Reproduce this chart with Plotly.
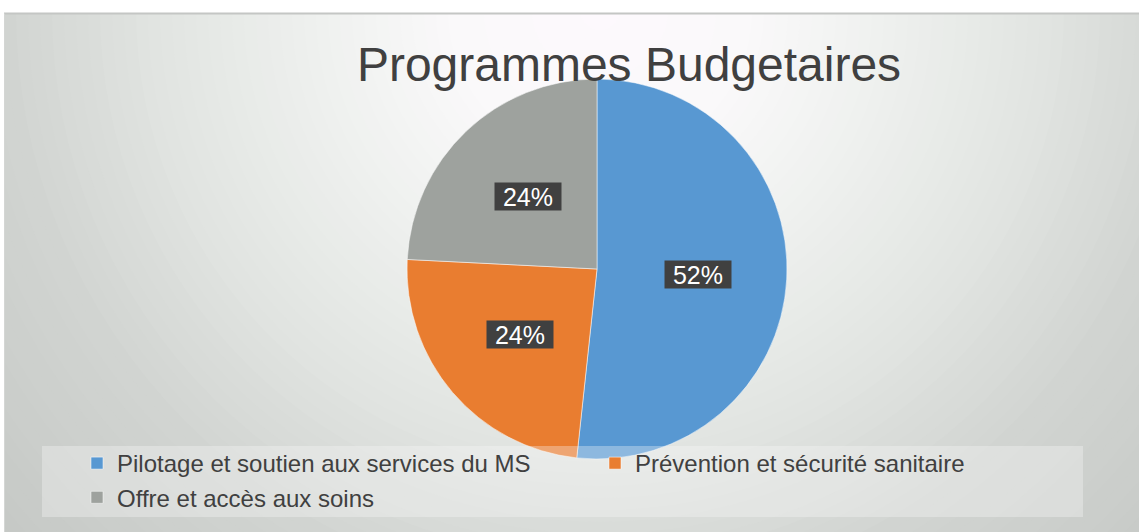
import math
import plotly.graph_objects as go

# ---- data ----
categories = ["Pilotage et soutien aux services du MS",
              "Prévention et sécurité sanitaire",
              "Offre et accès aux soins"]
values = [51.7, 24.1, 24.2]
colors = ["#5898d2", "#e97d30", "#9ea29e"]
title_text = "Programmes Budgetaires"

W, H = 1139, 532
CX, CY, R = 597, 269, 190  # pie centre / radius in px


def px(x):
    return x / W


def py(y):
    return 1 - y / H


fig = go.Figure()
fig.add_trace(go.Pie(
    labels=categories, values=values, sort=False, direction="clockwise",
    rotation=0, marker=dict(colors=colors, line=dict(color="rgba(255,255,255,0.5)", width=1)),
    textinfo="none", hoverinfo="label+percent",
    domain=dict(x=[px(CX - R), px(CX + R)], y=[py(CY + R), py(CY - R)]),
))

# ---- background radial gradient ----
stops = [(0, (253, 249, 253)), (150, (250, 249, 250)), (300, (238, 240, 238)),
         (450, (225, 228, 225)), (600, (209, 212, 209)), (850, (195, 198, 195))]


def col_at(r):
    for (r0, c0), (r1, c1) in zip(stops, stops[1:]):
        if r <= r1:
            t = (r - r0) / (r1 - r0)
            return "rgb(%d,%d,%d)" % tuple(round(a + (b - a) * t) for a, b in zip(c0, c1))
    return "rgb(%d,%d,%d)" % stops[-1][1]


shapes = []
GX, GY = 600, 10
r = 860
while r > 0:
    shapes.append(dict(type="circle", xref="paper", yref="paper", layer="below",
                       x0=px(GX - r), x1=px(GX + r), y0=py(GY + r), y1=py(GY - r),
                       fillcolor=col_at(r), line=dict(width=0)))
    r -= 12
# white outer strip + frame line
shapes.append(dict(type="rect", xref="paper", yref="paper", layer="below",
                   x0=0, x1=1, y0=py(13), y1=1, fillcolor="white", line=dict(width=0)))
shapes.append(dict(type="rect", xref="paper", yref="paper", layer="below",
                   x0=0, x1=px(4), y0=0, y1=1, fillcolor="white", line=dict(width=0)))
shapes.append(dict(type="line", xref="paper", yref="paper", layer="below",
                   x0=px(4), x1=1, y0=py(13.5), y1=py(13.5), line=dict(color="#c4c6c4", width=2)))
shapes.append(dict(type="line", xref="paper", yref="paper", layer="below",
                   x0=px(4.5), x1=px(4.5), y0=0, y1=py(13.5), line=dict(color="#d4d6d4", width=1)))
# legend box over pie
shapes.append(dict(type="rect", xref="paper", yref="paper", layer="above",
                   x0=px(42), x1=px(1083), y0=py(517), y1=py(446),
                   fillcolor="rgba(248,250,248,0.33)", line=dict(width=0)))

# ---- percentage labels in dark boxes ----
annotations = []
total = sum(values)
cum = 0
for v in values:
    mid = (cum + v / 2) / total * 2 * math.pi
    cum += v
    k = 0.53
    lx = CX + k * R * math.sin(mid)
    ly = CY - k * R * math.cos(mid)
    annotations.append(dict(
        x=px(lx), y=py(ly), xref="paper", yref="paper", showarrow=False,
        text="%d%%" % round(v / total * 100),
        font=dict(family="Liberation Sans, Arial, sans-serif", size=25, color="white"),
        bgcolor="#404040", width=64, height=25, borderpad=1))

fig.update_layout(
    width=W, height=H, margin=dict(l=0, r=0, t=0, b=0),
    paper_bgcolor="white", plot_bgcolor="white",
    title=dict(text=title_text, x=px(629), xanchor="center", y=py(64), yanchor="middle",
               font=dict(family="Liberation Sans, Arial, sans-serif", size=48, color="#404040")),
    shapes=shapes, annotations=annotations,
    legend=dict(orientation="h", x=px(77), xanchor="left", y=py(441), yanchor="top",
                entrywidth=473, entrywidthmode="pixels", bgcolor="rgba(0,0,0,0)",
                font=dict(family="Liberation Sans, Arial, sans-serif", size=24, color="#404040"),
                traceorder="normal"),
    showlegend=True,
)

fig.write_html("out.html")
